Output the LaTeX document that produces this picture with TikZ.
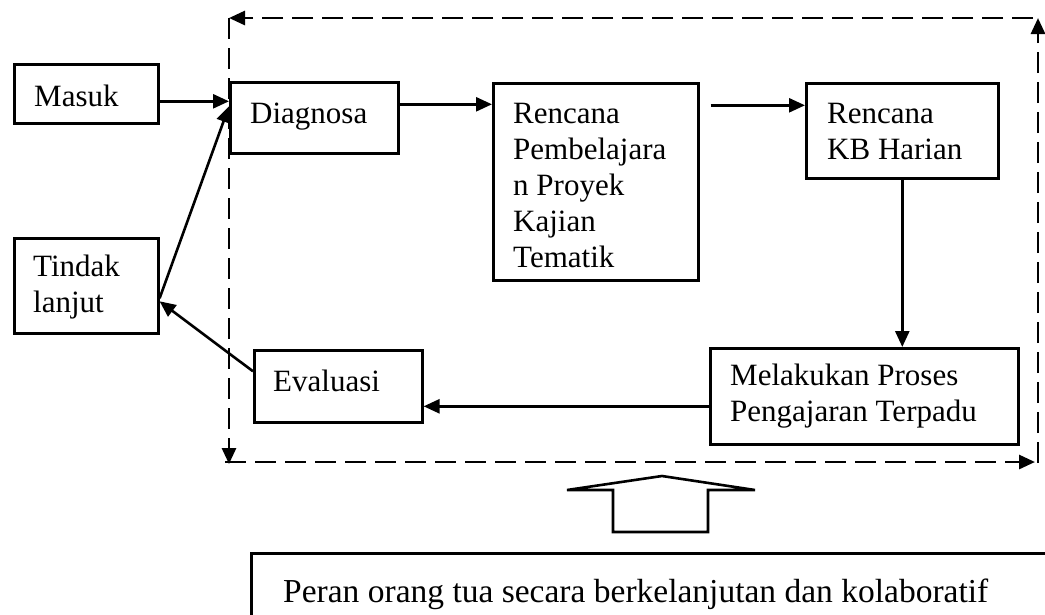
\documentclass[tikz,border=0pt]{standalone}
\usepackage{fontspec}
\setmainfont{Liberation Serif}
\usetikzlibrary{arrows.meta,calc}
\begin{document}
\begin{tikzpicture}[x=1pt,y=-1pt,
  box/.style={draw,line width=2.6pt,inner sep=0pt,anchor=north west},
  txt/.style={inner sep=0pt,anchor=north west,align=left,font=\fontsize{31}{36}\selectfont},
  arr/.style={line width=2.6pt,-{Triangle[length=16pt,width=14pt]}},
  dasharr/.style={line width=2.9pt,dash pattern=on 21pt off 9pt,-{Triangle[length=16pt,width=14pt]}}]
\useasboundingbox (0,0) rectangle (1045,614);

% boxes
\node[box,minimum width=144pt,minimum height=59pt] (masuk) at (13,63) {};
\node[box,minimum width=168pt,minimum height=71pt] (diag) at (229,81) {};
\node[box,minimum width=205pt,minimum height=197pt] (rp) at (492,82) {};
\node[box,minimum width=192pt,minimum height=95pt] (kb) at (805,82) {};
\node[box,minimum width=144pt,minimum height=95pt] (tindak) at (13,237) {};
\node[box,minimum width=168pt,minimum height=72pt] (eval) at (253,349) {};
\node[box,minimum width=308pt,minimum height=96pt] (mel) at (709,347) {};
\node[box,minimum width=810pt,minimum height=80pt] (peran) at (250,552) {};

% texts
\node[txt] (tmasuk) at (34,80.8) {\strut Masuk};
\node[txt] (tdiag) at (250,97.8) {\strut Diagnosa};
\node[txt] (trp) at (513,97.8) {\strut Rencana\\Pembelajara\\n Proyek\\Kajian\\Tematik};
\node[txt] (tkb) at (827,97.8) {\strut Rencana\\KB Harian};
\node[txt] (ttindak) at (33,250.8) {\strut Tindak\\lanjut};
\node[txt] (teval) at (273,365.8) {\strut Evaluasi};
\node[txt] (tmel) at (730,359.8) {\strut Melakukan Proses\\Pengajaran Terpadu};
\node[txt,font=\fontsize{33.5}{38}\selectfont] (tperan) at (283,575.4) {\strut Peran orang tua secara berkelanjutan dan kolaboratif};

% connectors
\draw[arr] ([yshift=-7.5pt]masuk.east) -- ([yshift=-7.5pt]masuk.east -| diag.west);
\draw[arr] ([yshift=13.5pt]diag.east) -- ([yshift=13.5pt]diag.east -| rp.west);
\draw[arr] ([xshift=11pt,yshift=25.5pt]rp.east |- kb.west) -- ([yshift=25.5pt]kb.west);
\draw[arr] (kb.south) -- (kb.south |- mel.north);
\draw[arr] ([yshift=-10pt]mel.west) -- ([yshift=-10pt]mel.west -| eval.east);
\draw[arr] ([yshift=15pt]eval.west) -- ([yshift=-15.5pt]tindak.east);
\draw[arr] ([yshift=-12.5pt]tindak.east) -- ([yshift=11.5pt]diag.west);

% dashed frame
\coordinate (ftl) at (229,18);
\coordinate (ftr) at (1038,18);
\coordinate (fbl) at (229,462);
\coordinate (fbr) at (1038,462);
\draw[dasharr] ([xshift=-5pt]ftr) -- (ftl);
\draw[dasharr] (ftl) -- ([yshift=-2pt]fbl);
\draw[dasharr] ([xshift=-4pt]fbl) -- ([xshift=-3pt]fbr);
\draw[dasharr] ([yshift=-1pt]fbr) -- (ftr);

% hollow block arrow
\draw[line width=2.6pt,line join=miter] (613,532) -- (613,490) -- (567,490) -- (662,476) -- (755,490) -- (708,490) -- (708,532) -- cycle;
\end{tikzpicture}
\end{document}
